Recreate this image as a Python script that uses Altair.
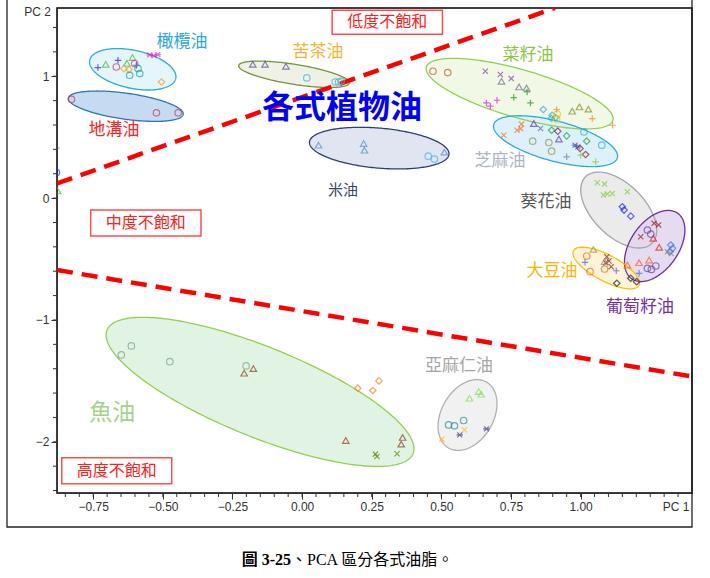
import altair as alt
import numpy as np
import pandas as pd

# ---------------- axes ----------------
X_DOMAIN = [-0.88, 1.40]
Y_DOMAIN = [-2.42, 1.56]
X_LABELS = [-0.75, -0.50, -0.25, 0.00, 0.25, 0.50, 0.75, 1.00]
Y_LABELS = [-2, -1, 0, 1]
X_MINOR = [round(-0.85 + 0.05 * i, 2) for i in range(45)]
Y_MINOR = [round(-2.4 + 0.2 * i, 1) for i in range(20)]
W, H = 635, 485

# ---------------- points: (PC1, PC2, marker, colour) ----------------
olive_pts = [
    (-0.733, 1.071, "plus", "#2020e0"), (-0.661, 1.131, "plus", "#2020e0"), (-0.595, 1.090, "plus", "#2020e0"),
    (-0.705, 1.098, "tri", "#40c040"), (-0.629, 1.107, "tri", "#40c040"), (-0.609, 1.153, "tri", "#40c040"),
    (-0.667, 1.076, "circle", "#d04060"), (-0.601, 1.104, "circle", "#d04060"),
    (-0.640, 1.063, "diamond", "#f0a020"), (-0.621, 1.055, "diamond", "#f0a020"), (-0.505, 0.953, "diamond", "#f0a020"),
    (-0.589, 1.063, "circle", "#20a0a0"), (-0.583, 1.022, "circle", "#20a0a0"), (-0.619, 1.008, "circle", "#20a0a0"),
    (-0.547, 1.175, "asterisk", "#d030d0"), (-0.532, 1.168, "asterisk", "#d030d0"), (-0.518, 1.178, "asterisk", "#d030d0"),
]
gutter_pts = [
    (-0.828, 0.811, "circle", "#c84060"), (-0.523, 0.700, "circle", "#c84060"), (-0.445, 0.700, "circle", "#c84060"),
]
camellia_pts = [
    (-0.177, 1.098, "tri", "#505090"), (-0.133, 1.098, "tri", "#505090"), (-0.058, 1.082, "tri", "#505090"),
    (0.017, 0.986, "circle", "#40b0d8"), (0.119, 0.953, "circle", "#40b0d8"), (0.131, 0.953, "circle", "#40b0d8"),
    (0.140, 0.958, "circle", "#40b0d8"),
]
rice_pts = [
    (0.059, 0.434, "tri", "#5090c8"), (0.221, 0.448, "tri", "#5090c8"), (0.224, 0.393, "tri", "#5090c8"),
    (0.511, 0.377, "tri", "#5090c8"), (0.453, 0.344, "circle", "#40b8e0"), (0.475, 0.320, "circle", "#40b8e0"),
]
rapeseed_pts = [
    (0.470, 1.041, "circle", "#b06030"), (0.523, 1.030, "circle", "#b06030"),
    (0.658, 1.041, "x", "#8040a0"), (0.712, 1.014, "x", "#8040a0"), (0.751, 0.981, "x", "#8040a0"),
    (0.716, 0.959, "tri", "#707090"), (0.779, 0.912, "tri", "#707090"), (0.806, 0.904, "tri", "#707090"),
    (0.808, 0.871, "plus", "#209020"), (0.760, 0.825, "plus", "#209020"), (0.820, 0.781, "plus", "#209020"),
    (0.662, 0.781, "plus", "#d020d0"), (0.676, 0.754, "plus", "#d020d0"), (0.700, 0.803, "plus", "#d020d0"),
    (0.866, 0.727, "diamond", "#20b0e0"), (0.898, 0.680, "diamond", "#20b0e0"), (0.910, 0.661, "diamond", "#20b0e0"),
    (0.895, 0.655, "diamond", "#20b0e0"), (0.916, 0.690, "circle", "#ffc000"), (0.914, 0.650, "circle", "#ffc000"),
    (0.914, 0.727, "plus", "#ff8020"), (1.042, 0.653, "plus", "#ff8020"), (1.115, 0.598, "plus", "#ff8020"),
    (0.970, 0.713, "tri", "#8a8a20"), (0.996, 0.748, "tri", "#8a8a20"), (1.028, 0.730, "tri", "#8a8a20"),
]
sesame_pts = [
    (0.724, 0.516, "x", "#f07030"), (0.772, 0.557, "x", "#f07030"), (0.788, 0.607, "x", "#f07030"),
    (0.785, 0.570, "x", "#f07030"),
    (0.832, 0.612, "tri", "#7030a0"), (0.922, 0.484, "tri", "#7030a0"), (0.856, 0.571, "x", "#6060a0"),
    (0.828, 0.467, "circle", "#8a9a40"), (0.886, 0.456, "circle", "#8a9a40"), (0.896, 0.385, "circle", "#8a9a40"),
    (0.896, 0.557, "diamond", "#20a040"), (0.950, 0.511, "diamond", "#20a040"), (1.022, 0.467, "diamond", "#20a040"),
    (0.918, 0.549, "diamond", "#802040"), (0.998, 0.407, "diamond", "#802040"), (1.018, 0.358, "diamond", "#802040"),
    (0.980, 0.434, "asterisk", "#5050a0"), (0.990, 0.420, "asterisk", "#5050a0"),
    (1.012, 0.543, "circle", "#30b0e0"), (1.076, 0.434, "circle", "#30b0e0"),
    (0.950, 0.339, "plus", "#708090"), (1.000, 0.352, "plus", "#80d020"), (1.054, 0.298, "plus", "#80d020"),
]
sunflower_pts = [
    (1.060, 0.126, "x", "#80d020"), (1.086, 0.115, "x", "#80d020"), (1.096, 0.033, "x", "#80d020"),
    (1.114, 0.038, "x", "#80d020"), (1.082, 0.025, "x", "#80d020"), (1.168, 0.052, "x", "#80d020"),
    (1.150, -0.071, "diamond", "#2020ff"), (1.156, -0.098, "diamond", "#2020ff"), (1.180, -0.148, "diamond", "#2020ff"),
]
grape_pts = [
    (1.264, -0.207, "x", "#a01020"), (1.216, -0.317, "x", "#a01020"), (1.280, -0.220, "x", "#a01020"),
    (1.240, -0.262, "circle", "#7040a0"), (1.252, -0.295, "circle", "#7040a0"), (1.240, -0.576, "circle", "#7040a0"),
    (1.254, -0.585, "circle", "#7040a0"), (1.270, -0.557, "circle", "#7040a0"),
    (1.261, -0.330, "tri", "#e02020"), (1.282, -0.404, "tri", "#e02020"),
    (1.324, -0.385, "diamond", "#4070e0"), (1.330, -0.412, "diamond", "#4070e0"), (1.320, -0.440, "diamond", "#4070e0"),
    (1.312, -0.440, "x", "#70907a"), (1.325, -0.455, "x", "#70907a"),
    (1.210, -0.530, "tri", "#f06020"), (1.246, -0.508, "tri", "#f06020"), (1.168, -0.549, "tri", "#f06020"),
    (1.210, -0.617, "plus", "#4060e0"),
]
soy_pts = [
    (1.046, -0.421, "tri", "#9a9a50"), (1.016, -0.527, "plus", "#4060e0"), (1.128, -0.596, "plus", "#4060e0"),
    (1.022, -0.475, "circle", "#f07020"), (1.034, -0.604, "circle", "#f07020"), (1.086, -0.582, "circle", "#f07020"),
    (1.094, -0.481, "x", "#8a1a1a"), (1.102, -0.516, "x", "#8a1a1a"), (1.110, -0.563, "x", "#8a1a1a"),
    (1.090, -0.530, "x", "#8a1a1a"), (1.086, -0.522, "tri", "#8a9a70"),
    (1.130, -0.699, "diamond", "#202020"), (1.180, -0.658, "diamond", "#202020"), (1.201, -0.686, "diamond", "#202020"),
]
fish_pts = [
    (-0.649, -1.287, "circle", "#80a090"), (-0.613, -1.213, "circle", "#80a090"), (-0.475, -1.342, "circle", "#80a090"),
    (-0.201, -1.377, "circle", "#80a090"),
    (-0.208, -1.437, "tri", "#904020"), (-0.175, -1.399, "tri", "#904020"), (0.157, -1.989, "tri", "#904020"),
    (0.361, -1.964, "tri", "#904020"), (0.356, -2.019, "tri", "#904020"),
    (0.200, -1.560, "diamond", "#f08020"), (0.254, -1.579, "diamond", "#f08020"), (0.276, -1.500, "diamond", "#f08020"),
    (0.263, -2.101, "x", "#6a7a10"), (0.269, -2.120, "x", "#6a7a10"), (0.341, -2.098, "x", "#6a7a10"),
]
linseed_pts = [
    (0.601, -1.642, "tri", "#80e060"), (0.634, -1.587, "tri", "#80e060"), (0.643, -1.609, "tri", "#80e060"),
    (0.526, -1.861, "circle", "#209090"), (0.547, -1.869, "circle", "#209090"), (0.580, -1.825, "circle", "#209090"),
    (0.502, -1.978, "x", "#ffc020"), (0.583, -1.902, "x", "#ffc020"),
    (0.566, -1.943, "asterisk", "#404080"), (0.662, -1.893, "asterisk", "#404080"),
]
edge_pts = [
    (-0.882, 0.410, "plus", "#b06030"), (-0.882, 0.210, "circle", "#2040e0"), (-0.878, 0.060, "tri", "#40c040"),
]

SHAPE_KEYS = ["circle", "tri", "diamond", "plus", "x", "asterisk"]
SHAPE_PATHS = ["circle", "triangle-up", "diamond",
               "M-1,0L1,0M0,-1L0,1",
               "M-0.8,-0.8L0.8,0.8M-0.8,0.8L0.8,-0.8",
               "M-1,0L1,0M-0.75,-0.75L0.75,0.75M-0.75,0.75L0.75,-0.75"]

# ---------------- ellipses ----------------
ELL_NAME = ["olive", "gutter", "camellia", "rice", "rapeseed", "sesame", "sunflower", "grape", "soy", "fish", "linseed"]
ELL_CX = [-0.608, -0.633, -0.029, 0.277, 0.781, 0.910, 1.137, 1.266, 1.092, -0.151, 0.594]
ELL_CY = [1.057, 0.754, 1.016, 0.410, 0.857, 0.467, -0.098, -0.393, -0.574, -1.590, -1.780]
ELL_A = [44, 58, 56, 70, 97, 64, 47, 40, 37, 165, 38]      # semi-axes in pixels
ELL_B = [19, 13, 10, 20, 24, 20, 26, 24, 13, 45, 26]
ELL_ANG = [-12, -8, -9, -5, -16, -15, -45, 55, -28, -22, 60]  # degrees
ELL_STROKE = ["#29abe2", "#2e75b6", "#77933c", "#2f3f6f", "#92d050", "#29abe2",
              "#a6a6a6", "#7030a0", "#ffc000", "#92d050", "#b0b0b0"]
ELL_FILL = ["#e0f3fc", "#bcd5ee", "#eceee2", "#dbe0ee", "#eef7e2", "#d8eefa",
            "#e8e8e8", "#e2d6ef", "#fff1d2", "#dcf2df", "#eeeeee"]

# ---------------- labels ----------------
LAB_TEXT = ["橄欖油", "地溝油", "苦茶油", "菜籽油", "芝麻油", "米油", "葵花油", "大豆油", "葡萄籽油", "亞麻仁油", "魚油"]
LAB_X = [-0.431, -0.675, 0.057, 0.811, 0.711, 0.147, 0.876, 0.897, 1.213, 0.563, -0.682]
LAB_Y = [1.281, 0.559, 1.198, 1.174, 0.304, 0.066, -0.032, -0.600, -0.894, -1.378, -1.763]
LAB_COLOR = ["#2aa8e0", "#ff2020", "#f5b335", "#8cc63f", "#aab4c8", "#3a4560", "#555555",
             "#ffb300", "#7030a0", "#a6a6a6", "#a9d18e"]
LAB_SIZE = [17, 17, 17, 17, 17, 15, 17, 17, 17, 17, 23]

BOX_TEXT = ["低度不飽和", "中度不飽和", "高度不飽和"]
BOX_X1 = [0.108, -0.759, -0.863]
BOX_X2 = [0.504, -0.363, -0.468]
BOX_Y1 = [1.344, -0.311, -2.344]
BOX_Y2 = [1.541, -0.098, -2.131]

LINE_UP_X = [-0.88, 0.908]
LINE_UP_Y = [0.12, 1.56]
LINE_LO_X = [-0.88, 1.40]
LINE_LO_Y = [-0.59, -1.464]

CJK = "Noto Sans CJK TC"
SANS = "Liberation Sans"

# ---------------- build tables ----------------
all_pts = (olive_pts + gutter_pts + camellia_pts + rice_pts + rapeseed_pts + sesame_pts +
           sunflower_pts + grape_pts + soy_pts + fish_pts + linseed_pts + edge_pts)
pts_df = pd.DataFrame(all_pts, columns=["x", "y", "shape", "color"])

PX_X = W / (X_DOMAIN[1] - X_DOMAIN[0])
PX_Y = H / (Y_DOMAIN[1] - Y_DOMAIN[0])

area_rows, line_rows = [], []
for name, cx, cy, a, b, ang, sc, fc in zip(ELL_NAME, ELL_CX, ELL_CY, ELL_A, ELL_B,
                                           ELL_ANG, ELL_STROKE, ELL_FILL):
    th = np.radians(ang)
    A = np.cos(th) ** 2 / a ** 2 + np.sin(th) ** 2 / b ** 2
    B = 2 * np.cos(th) * np.sin(th) * (1 / a ** 2 - 1 / b ** 2)
    C = np.sin(th) ** 2 / a ** 2 + np.cos(th) ** 2 / b ** 2
    half = np.sqrt(a ** 2 * np.cos(th) ** 2 + b ** 2 * np.sin(th) ** 2)
    s = np.linspace(0, np.pi, 121)
    u = -half * np.cos(s)
    disc = np.clip(B ** 2 * u ** 2 - 4 * C * (A * u ** 2 - 1), 0, None)
    vt = (-B * u + np.sqrt(disc)) / (2 * C)
    vb = (-B * u - np.sqrt(disc)) / (2 * C)
    xs_ = cx + u / PX_X
    for i in range(len(u)):
        area_rows.append({"e": name, "x": xs_[i], "yt": cy + vt[i] / PX_Y,
                          "yb": cy + vb[i] / PX_Y, "fill": fc})
    order = 0
    for i in range(len(u)):
        line_rows.append({"e": name, "o": order, "x": xs_[i], "y": cy + vt[i] / PX_Y, "stroke": sc})
        order += 1
    for i in range(len(u) - 1, -1, -1):
        line_rows.append({"e": name, "o": order, "x": xs_[i], "y": cy + vb[i] / PX_Y, "stroke": sc})
        order += 1
area_df = pd.DataFrame(area_rows)
oline_df = pd.DataFrame(line_rows)

lab_df = pd.DataFrame({"t": LAB_TEXT, "x": LAB_X, "y": LAB_Y, "c": LAB_COLOR, "s": LAB_SIZE})
box_df = pd.DataFrame({"t": BOX_TEXT, "x1": BOX_X1, "x2": BOX_X2, "y1": BOX_Y1, "y2": BOX_Y2})
box_df["xm"] = (box_df.x1 + box_df.x2) / 2
box_df["ym"] = (box_df.y1 + box_df.y2) / 2
dash_df = pd.DataFrame({"x": LINE_UP_X + LINE_LO_X, "y": LINE_UP_Y + LINE_LO_Y,
                        "g": ["up", "up", "lo", "lo"]})
xminor_df = pd.DataFrame({"v": X_MINOR})
yminor_df = pd.DataFrame({"v": Y_MINOR})

xs = alt.Scale(domain=X_DOMAIN, nice=False, zero=False)
ys = alt.Scale(domain=Y_DOMAIN, nice=False, zero=False)

x_axis = alt.Axis(values=X_LABELS, format=".2f", title=None, grid=False, tickSize=6,
                  labelFont=SANS, labelFontSize=12, labelColor="#333", labelOverlap=False,
                  labelFlush=False, domainColor="#333", tickColor="#333", labelPadding=2)
y_axis = alt.Axis(values=Y_LABELS, format="d", title=None, grid=False, tickSize=6,
                  labelFont=SANS, labelFontSize=12, labelColor="#333", labelOverlap=False,
                  labelFlush=False, domainColor="#333", tickColor="#333", labelPadding=2)

fills = alt.Chart(area_df).mark_area(opacity=0.85).encode(
    x=alt.X("x:Q", scale=xs, axis=x_axis),
    y=alt.Y("yt:Q", scale=ys, axis=y_axis),
    y2="yb:Q",
    fill=alt.Fill("fill:N", scale=None),
    detail="e:N",
)
xminor = alt.Chart(xminor_df).mark_rule(color="#333", strokeWidth=1).encode(
    x=alt.X("v:Q", scale=xs), y=alt.value(H), y2=alt.value(H + 4))
yminor = alt.Chart(yminor_df).mark_rule(color="#333", strokeWidth=1).encode(
    y=alt.Y("v:Q", scale=ys), x=alt.value(0), x2=alt.value(-4))
outlines = alt.Chart(oline_df).mark_line(strokeWidth=1.3).encode(
    x=alt.X("x:Q", scale=xs), y=alt.Y("y:Q", scale=ys),
    stroke=alt.Stroke("stroke:N", scale=None), detail="e:N", order="o:Q",
)
dashes = alt.Chart(dash_df).mark_line(color="#ff0000", strokeWidth=4.5, strokeDash=[16, 9], clip=True).encode(
    x=alt.X("x:Q", scale=xs), y=alt.Y("y:Q", scale=ys), detail="g:N",
)
points = alt.Chart(pts_df).mark_point(filled=False, size=42, strokeWidth=1.2, clip=True).encode(
    x=alt.X("x:Q", scale=xs), y=alt.Y("y:Q", scale=ys),
    shape=alt.Shape("shape:N", scale=alt.Scale(domain=SHAPE_KEYS, range=SHAPE_PATHS), legend=None),
    stroke=alt.Stroke("color:N", scale=None),
)
labels = alt.Chart(lab_df).mark_text(font=CJK, baseline="middle", align="center").encode(
    x=alt.X("x:Q", scale=xs), y=alt.Y("y:Q", scale=ys), text="t:N",
    color=alt.Color("c:N", scale=None), size=alt.Size("s:Q", scale=None),
)
big = alt.Chart(alt.Data(values=[{"t": "各式植物油", "x": 0.143, "y": 0.739}])).mark_text(
    font=CJK, fontSize=32, fontWeight="bold", color="#0000ff", baseline="middle").encode(
    x=alt.X("x:Q", scale=xs), y=alt.Y("y:Q", scale=ys), text="t:N")
boxes = alt.Chart(box_df).mark_rect(fill="white", stroke="#ff4d4d", strokeWidth=1.5).encode(
    x=alt.X("x1:Q", scale=xs), x2="x2:Q", y=alt.Y("y1:Q", scale=ys), y2="y2:Q")
box_text = alt.Chart(box_df).mark_text(font=CJK, fontSize=16, color="#ff2020", baseline="middle").encode(
    x=alt.X("xm:Q", scale=xs), y=alt.Y("ym:Q", scale=ys), text="t:N")

one = alt.Data(values=[{"a": 1}])
pc1 = alt.Chart(one).mark_text(text="PC 1", font=SANS, fontSize=12, color="#333", baseline="middle").encode(
    x=alt.value(619), y=alt.value(499))
pc2 = alt.Chart(one).mark_text(text="PC 2", font=SANS, fontSize=12, color="#333", align="right",
                               baseline="middle").encode(x=alt.value(-6), y=alt.value(4))
frame = alt.Chart(one).mark_rect(fillOpacity=0, stroke="#222", strokeWidth=1.3).encode(
    x=alt.value(-50), x2=alt.value(635), y=alt.value(-12), y2=alt.value(519))
cap1 = alt.Chart(one).mark_text(text="圖 3-25", font="Liberation Serif, " + CJK, fontSize=16,
                                fontWeight="bold", color="#000", align="right", baseline="middle").encode(
    x=alt.value(234), y=alt.value(552))
cap2 = alt.Chart(one).mark_text(text="、PCA 區分各式油脂。", font="Liberation Serif, " + CJK, fontSize=16,
                                color="#000", align="left", baseline="middle").encode(
    x=alt.value(234), y=alt.value(552))

chart = alt.layer(fills, xminor, yminor, outlines, dashes, points, big, labels, boxes, box_text,
                  pc1, pc2, frame, cap1, cap2).properties(
    width=W, height=H,
    autosize=alt.AutoSizeParams(type="none"),
    padding={"left": 57, "top": 8, "right": 18, "bottom": 85},
    background="white",
).configure_view(stroke="#000", strokeWidth=1.5).configure_axis(labelOverlap=False)

chart.save("out.html", embed_options={"renderer": "svg", "actions": False})
